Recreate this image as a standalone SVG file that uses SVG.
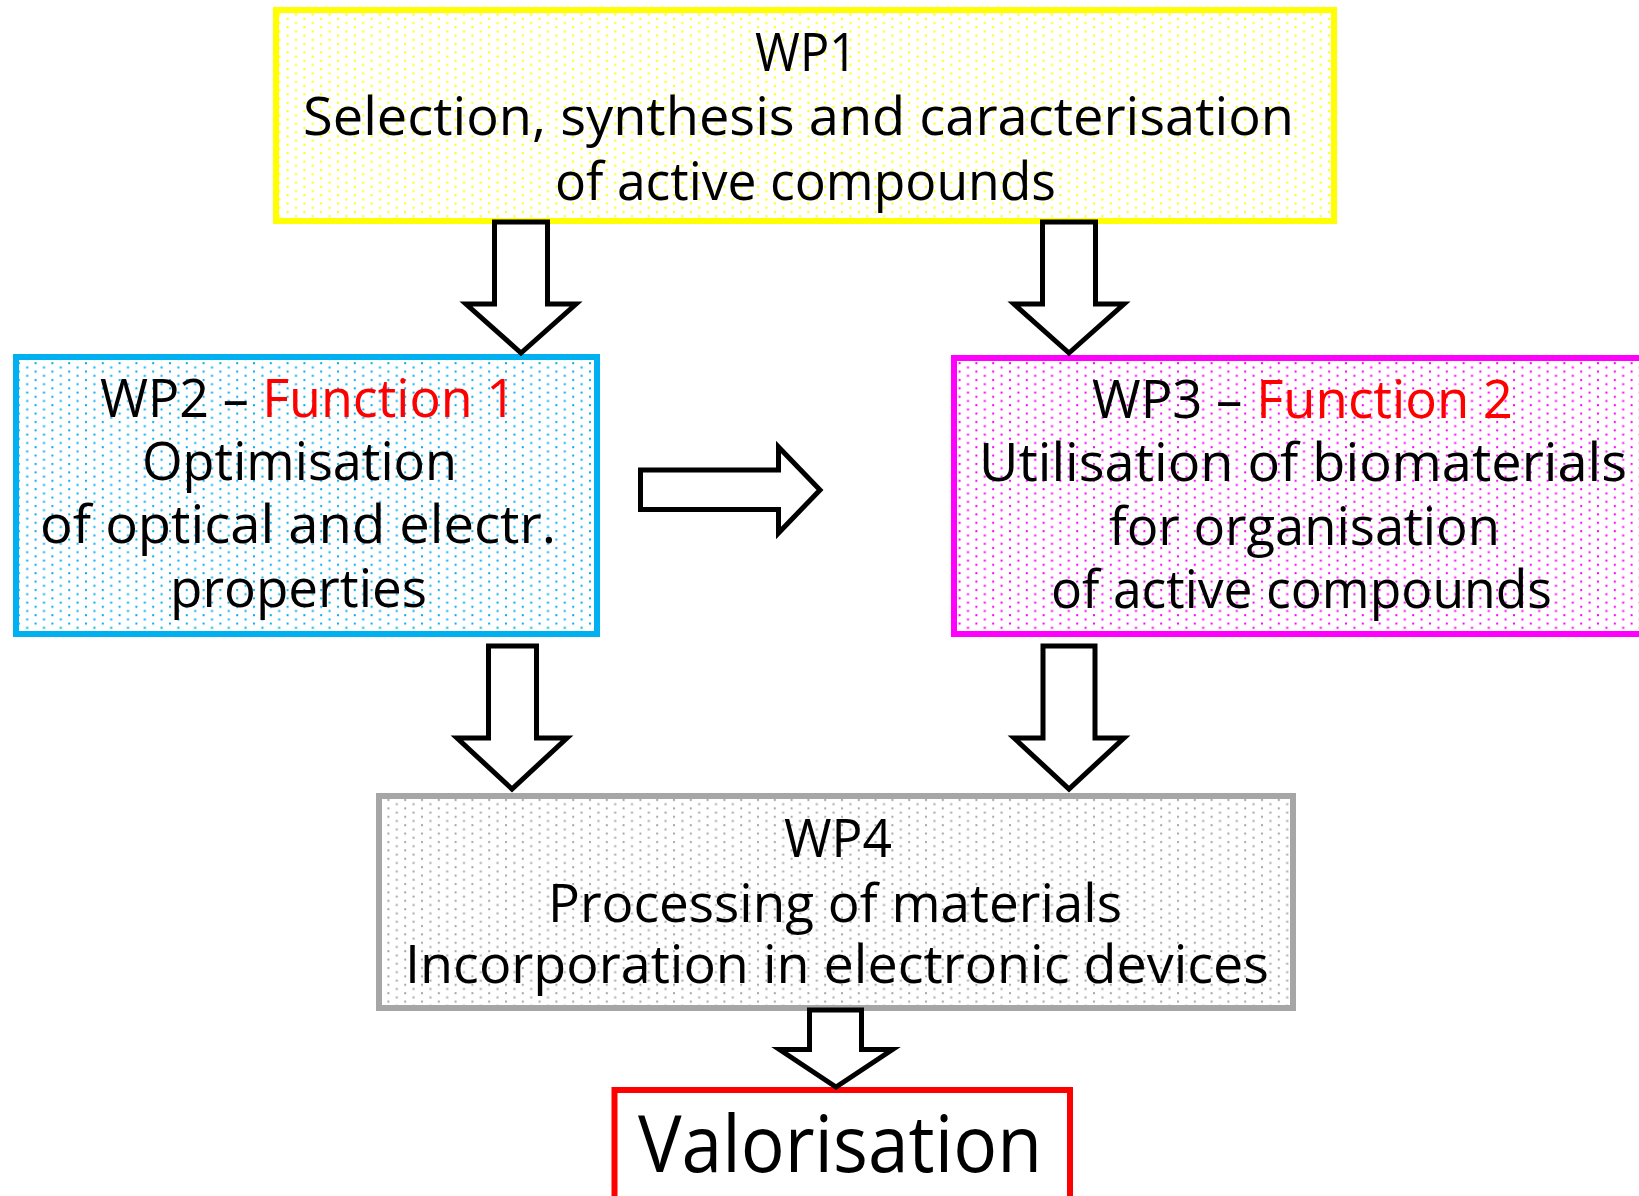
<svg xmlns="http://www.w3.org/2000/svg" width="1639" height="1196" viewBox="0 0 1639 1196">
<defs>
<style>
text{font-family:"Comic Sans MS","Open Sans","Liberation Sans",sans-serif;font-size:53px;fill:#000}
.red{fill:#FF0000}
.box{stroke-width:6}
.arrow{fill:#fff;stroke:#000;stroke-width:5;stroke-linejoin:miter;stroke-miterlimit:10}
</style>
<pattern id="pY" width="16.8" height="8.4" patternUnits="userSpaceOnUse"><rect width="16.8" height="8.4" fill="#fff"/><rect x="1" y="1" width="2" height="2" fill="#FFFF00"/><rect x="9.4" y="5.2" width="2" height="2" fill="#FFFF00"/></pattern>
<pattern id="pB" width="16.8" height="8.4" patternUnits="userSpaceOnUse"><rect width="16.8" height="8.4" fill="#fff"/><rect x="1" y="1" width="2" height="2" fill="#00B0F0"/><rect x="9.4" y="5.2" width="2" height="2" fill="#00B0F0"/></pattern>
<pattern id="pM" width="16.8" height="8.4" patternUnits="userSpaceOnUse"><rect width="16.8" height="8.4" fill="#fff"/><rect x="1" y="1" width="2" height="2" fill="#FF00FF"/><rect x="9.4" y="5.2" width="2" height="2" fill="#FF00FF"/></pattern>
<pattern id="pG" width="16.8" height="8.4" patternUnits="userSpaceOnUse"><rect width="16.8" height="8.4" fill="#fff"/><rect x="1" y="1" width="2" height="2" fill="#A6A6A6"/><rect x="9.4" y="5.2" width="2" height="2" fill="#A6A6A6"/></pattern>
</defs>
<rect width="1639" height="1196" fill="#fff"/>

<g id="wp1">
<rect class="box" x="276" y="10" width="1058" height="211" fill="url(#pY)" stroke="#FFFF00"/>
<text x="755" y="71" textLength="102" lengthAdjust="spacingAndGlyphs">WP1</text>
<text x="303" y="135" textLength="991" lengthAdjust="spacingAndGlyphs">Selection, synthesis and caracterisation</text>
<text x="555" y="200" textLength="501" lengthAdjust="spacingAndGlyphs">of active compounds</text>
</g>

<g id="wp2">
<rect class="box" x="16" y="357" width="581" height="277" fill="url(#pB)" stroke="#00B0F0"/>
<text x="100" y="417" textLength="416" lengthAdjust="spacingAndGlyphs">WP2 – <tspan class="red">Function 1</tspan></text>
<text x="142" y="480" textLength="315" lengthAdjust="spacingAndGlyphs">Optimisation</text>
<text x="40" y="543" textLength="516" lengthAdjust="spacingAndGlyphs">of optical and electr.</text>
<text x="170" y="607" textLength="257" lengthAdjust="spacingAndGlyphs">properties</text>
</g>

<g id="wp3">
<rect class="box" x="954" y="358" width="700" height="276" fill="url(#pM)" stroke="#FF00FF"/>
<text x="1092" y="418" textLength="421" lengthAdjust="spacingAndGlyphs">WP3 – <tspan class="red">Function 2</tspan></text>
<text x="979" y="481" textLength="648" lengthAdjust="spacingAndGlyphs">Utilisation of biomaterials</text>
<text x="1109" y="545" textLength="391" lengthAdjust="spacingAndGlyphs">for organisation</text>
<text x="1051" y="608" textLength="501" lengthAdjust="spacingAndGlyphs">of active compounds</text>
</g>

<g id="wp4">
<rect class="box" x="379" y="796" width="914" height="212" fill="url(#pG)" stroke="#A6A6A6"/>
<text x="784" y="857" textLength="108" lengthAdjust="spacingAndGlyphs">WP4</text>
<text x="548" y="922" textLength="574" lengthAdjust="spacingAndGlyphs">Processing of materials</text>
<text x="405" y="983" textLength="864" lengthAdjust="spacingAndGlyphs">Incorporation in electronic devices</text>
</g>

<g id="valorisation">
<rect class="box" x="614.5" y="1090" width="455.5" height="160" fill="#fff" stroke="#FF0000"/>
<text x="638" y="1172" textLength="404" lengthAdjust="spacingAndGlyphs" style="font-size:78px">Valorisation</text>
</g>

<g id="connectors">
<polygon class="arrow" points="494.5,222 547.5,222 547.5,304 576,304 521,353 466,304 494.5,304"/>
<polygon class="arrow" points="1042.5,222 1095.5,222 1095.5,304 1124,304 1069,353 1014,304 1042.5,304"/>
<polygon class="arrow" points="488.5,646 536.5,646 536.5,738 567,738 512,789 457,738 488.5,738"/>
<polygon class="arrow" points="1043,646 1095,646 1095,738 1124,738 1069,789 1014,738 1043,738"/>
<polygon class="arrow" points="640.5,470 778.5,470 778.5,447 820,490 778.5,533 778.5,509.5 640.5,509.5"/>
<polygon class="arrow" points="809.5,1010 861.5,1010 861.5,1049.5 892.5,1049.5 836,1087 779.5,1049.5 809.5,1049.5"/>
</g>
</svg>
